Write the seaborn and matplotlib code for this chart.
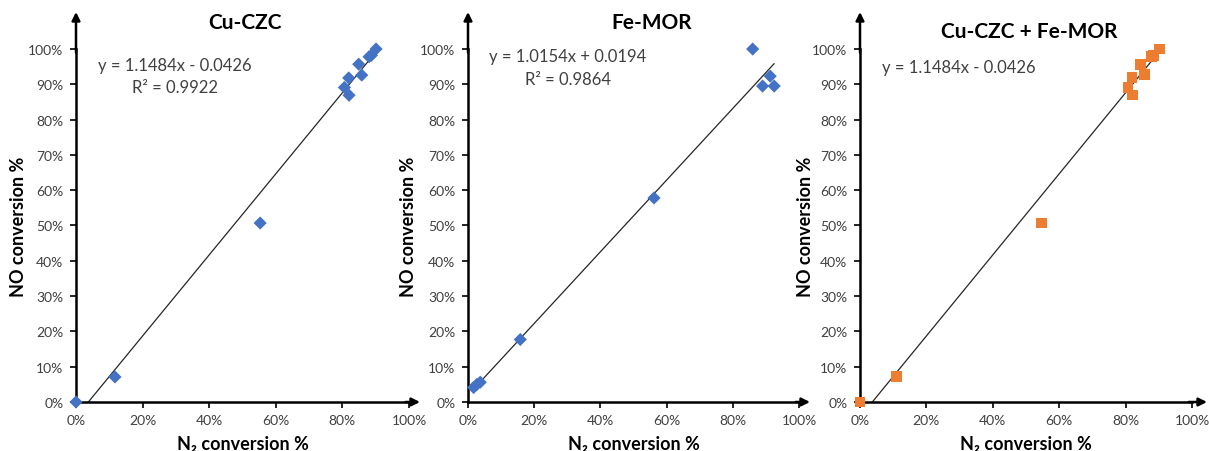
import numpy as np
import pandas as pd
import matplotlib
matplotlib.use("Agg")
import matplotlib.pyplot as plt
import seaborn as sns
from matplotlib.ticker import FuncFormatter, MultipleLocator

# ---- data ----
cu_x = [0.0, 0.117, 0.553, 0.806, 0.819, 0.820, 0.849, 0.858, 0.880, 0.887, 0.901]
cu_y = [0.0, 0.071, 0.507, 0.891, 0.918, 0.869, 0.957, 0.926, 0.978, 0.982, 1.000]

fe_x = [0.017, 0.027, 0.037, 0.158, 0.562, 0.860, 0.913, 0.890, 0.925]
fe_y = [0.041, 0.050, 0.056, 0.177, 0.578, 1.000, 0.923, 0.895, 0.895]

mix_x = [0.0, 0.111, 0.547, 0.807, 0.819, 0.820, 0.846, 0.857, 0.878, 0.884, 0.902]
mix_y = [0.0, 0.072, 0.507, 0.892, 0.919, 0.870, 0.957, 0.928, 0.978, 0.982, 1.000]

titles = ["Cu-CZC", "Fe-MOR", "Cu-CZC + Fe-MOR"]
slopes = [1.1484, 1.0154, 1.1484]
intercepts = [-0.0426, 0.0194, -0.0426]
eq_texts = ["y = 1.1484x - 0.0426", "y = 1.0154x + 0.0194", "y = 1.1484x - 0.0426"]
r2_texts = ["R² = 0.9922", "R² = 0.9864", None]
x_ticks = [0, 0.2, 0.4, 0.6, 0.8, 1.0]

sns.set_style("white")
plt.rcParams["font.family"] = ["Lato", "DejaVu Sans"]

fig = plt.figure(figsize=(12.09, 4.52), dpi=100)
H = 452.0
W = 1209.0
bottom = (H - 403) / H
height = 353 / H
panels = [(76, 333), (468, 331), (860, 332)]
datasets = [(cu_x, cu_y), (fe_x, fe_y), (mix_x, mix_y)]
markers = ["D", "D", "s"]
colors = ["#4472C4", "#4472C4", "#ED7D31"]
sizes = [45, 45, 60]
title_pos = [(0.508, (403 - 23) / 353), (0.556, (403 - 23) / 353), (0.509, (403 - 32) / 353)]
eq_pos = [(0.297, (403 - 66) / 353), (0.302, (403 - 57) / 353), (0.298, (403 - 68) / 353)]
r2_pos = [(0.297, (403 - 88) / 353), (0.302, (403 - 80) / 353), None]
xarrow_tip = [420, 810, 1207]
ylab_off = [58, 59, 55]

for i, (left, width) in enumerate(panels):
    ax = fig.add_axes([left / W, bottom, width / W, height])
    xs, ys = datasets[i]
    df = pd.DataFrame({"x": xs, "y": ys})
    # trendline
    lx = np.linspace(min(xs), max(xs), 50)
    ldf = pd.DataFrame({"x": lx, "y": slopes[i] * lx + intercepts[i]})
    sns.lineplot(data=ldf, x="x", y="y", ax=ax, color="#262626", lw=0.9, zorder=2)
    sns.scatterplot(data=df, x="x", y="y", ax=ax, marker=markers[i], color=colors[i],
                    s=sizes[i], edgecolor="none", linewidth=0, zorder=3, clip_on=False)
    ax.set_xlim(0, 1)
    ax.set_ylim(0, 1)
    ax.xaxis.set_major_locator(plt.FixedLocator(x_ticks))
    ax.yaxis.set_major_locator(MultipleLocator(0.1))
    fmt = FuncFormatter(lambda v, p: f"{v * 100:.0f}%")
    ax.xaxis.set_major_formatter(fmt)
    ax.yaxis.set_major_formatter(fmt)
    for s in ["top", "right"]:
        ax.spines[s].set_visible(False)
    for s in ["left", "bottom"]:
        ax.spines[s].set_color("black")
        ax.spines[s].set_linewidth(1.8)
    ax.tick_params(axis="both", which="major", direction="out", length=4, width=1.2,
                   color="black", labelsize=10, labelcolor="#404040", pad=5)
    ax.tick_params(axis="x", bottom=True)
    ax.tick_params(axis="y", left=True)
    # arrows
    ax.annotate("", xy=(0, (403 - 13) / 353), xycoords="axes fraction", xytext=(0, 0.99),
                arrowprops=dict(arrowstyle="-|>", color="black", lw=1.8, mutation_scale=12,
                                shrinkA=0, shrinkB=0))
    ax.annotate("", xy=((xarrow_tip[i] - left) / width, 0), xycoords="axes fraction",
                xytext=(0.99, 0),
                arrowprops=dict(arrowstyle="-|>", color="black", lw=1.8, mutation_scale=12,
                                shrinkA=0, shrinkB=0))
    ax.set_xlabel("N₂ conversion %", fontsize=13, fontweight="bold", color="black")
    ax.set_ylabel("NO conversion %", fontsize=13, fontweight="bold", color="black")
    ax.xaxis.set_label_coords(0.5, -(436 - 403) / 353)
    ax.yaxis.set_label_coords(-ylab_off[i] / width, 0.5)
    ax.yaxis.label.set_verticalalignment("center")
    ax.xaxis.label.set_verticalalignment("top")
    ax.text(title_pos[i][0], title_pos[i][1], titles[i], transform=ax.transAxes,
            ha="center", va="center", fontsize=15, fontweight="bold", color="black")
    ax.text(eq_pos[i][0], eq_pos[i][1], eq_texts[i], transform=ax.transAxes,
            ha="center", va="center", fontsize=12, color="#404040")
    if r2_texts[i]:
        ax.text(r2_pos[i][0], r2_pos[i][1], r2_texts[i], transform=ax.transAxes,
                ha="center", va="center", fontsize=12, color="#404040")

fig.savefig("out.png", dpi=100)
